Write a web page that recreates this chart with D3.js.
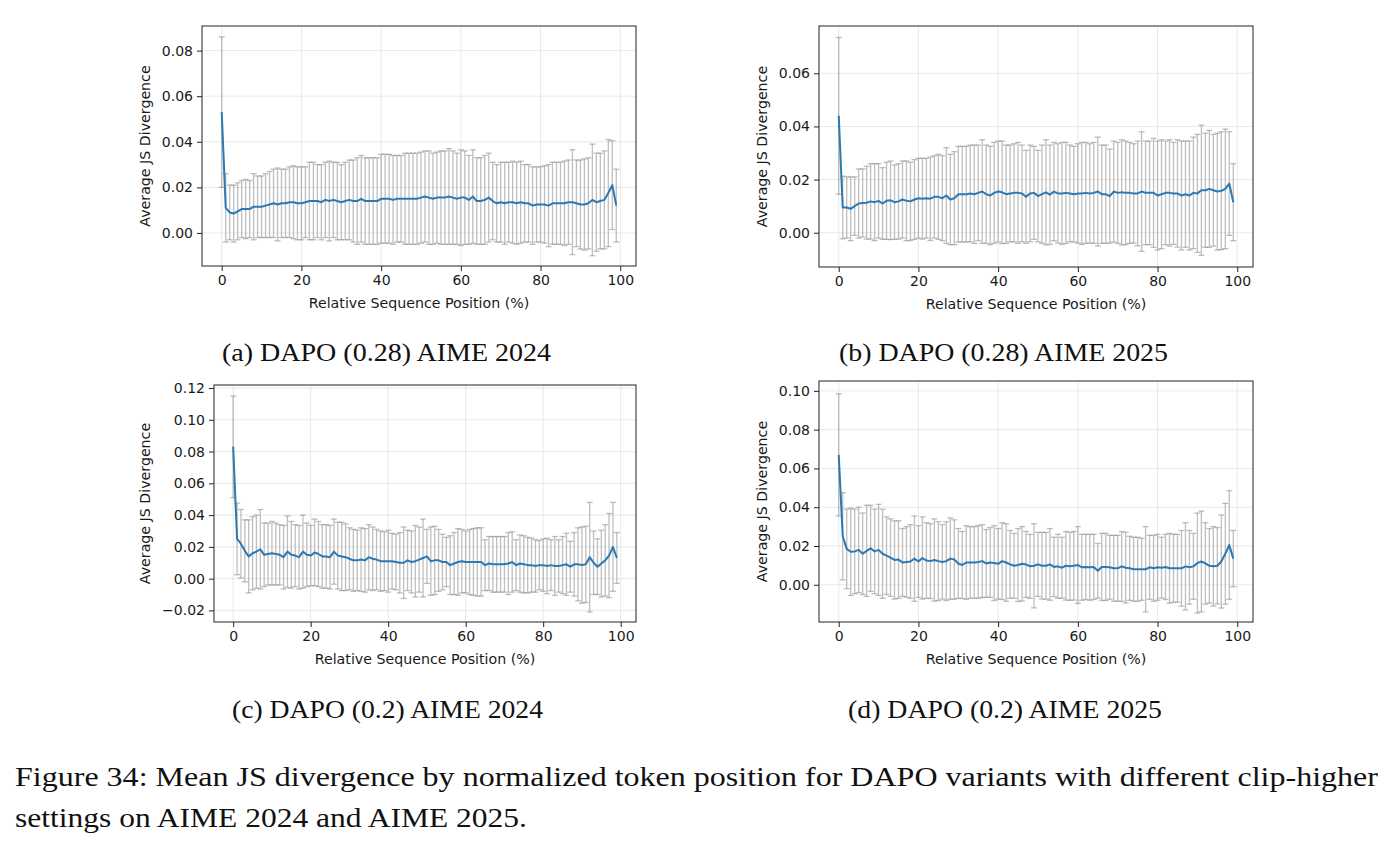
<!DOCTYPE html>
<html>
<head>
<meta charset="utf-8">
<script src="https://cdn.jsdelivr.net/npm/d3@7"></script>
<style>
  html, body { margin: 0; padding: 0; background: #fff; }
  svg { display: block; }
  .tick text { font-family: "DejaVu Sans", sans-serif; font-size: 14px; fill: #1a1a1a; }
  .axis-title { font-family: "DejaVu Sans", sans-serif; font-size: 14.2px; fill: #1a1a1a; }
  .caption { font-family: "Liberation Serif", "DejaVu Serif", serif; fill: #111; }
</style>
</head>
<body>
<div id="chart"></div>
<script>
// mean JS divergence per relative position bucket (0..99) and its std (error bar half-length)
const meanA = [0.053,0.011,0.009,0.0085,0.0095,0.0105,0.0105,0.0105,0.0115,0.0115,
  0.0115,0.012,0.0125,0.013,0.0125,0.013,0.013,0.0135,0.0135,0.013,
  0.013,0.0135,0.014,0.014,0.014,0.0135,0.0145,0.014,0.0145,0.014,
  0.0135,0.014,0.0145,0.014,0.014,0.015,0.014,0.014,0.014,0.014,
  0.015,0.015,0.015,0.0145,0.015,0.015,0.015,0.015,0.015,0.015,
  0.0155,0.016,0.0155,0.015,0.0155,0.0155,0.0155,0.016,0.0155,0.015,
  0.0155,0.0155,0.0145,0.016,0.014,0.014,0.0145,0.0155,0.014,0.013,
  0.0135,0.013,0.0135,0.0135,0.013,0.0135,0.013,0.013,0.012,0.0125,
  0.0125,0.0125,0.012,0.013,0.013,0.013,0.013,0.0135,0.0135,0.013,
  0.0125,0.0125,0.013,0.0145,0.0135,0.014,0.0145,0.0175,0.021,0.012];
const stdA = [0.033,0.015,0.012,0.0125,0.0125,0.0125,0.013,0.0125,0.0145,0.0135,
  0.0135,0.014,0.0145,0.015,0.016,0.015,0.015,0.0155,0.016,0.016,
  0.016,0.0155,0.017,0.017,0.016,0.0165,0.0165,0.0175,0.0165,0.017,
  0.0165,0.017,0.0175,0.018,0.019,0.019,0.019,0.019,0.019,0.019,
  0.0195,0.0195,0.0195,0.0195,0.019,0.019,0.02,0.02,0.02,0.02,
  0.02,0.02,0.0205,0.02,0.02,0.0205,0.0205,0.021,0.0205,0.02,
  0.021,0.0205,0.0195,0.0205,0.019,0.019,0.0195,0.0195,0.017,0.017,
  0.0175,0.018,0.0175,0.018,0.018,0.018,0.017,0.017,0.017,0.0165,
  0.0165,0.017,0.018,0.018,0.018,0.018,0.0185,0.0185,0.023,0.019,
  0.0195,0.02,0.02,0.0245,0.0215,0.021,0.0215,0.0235,0.0195,0.016];

const meanB = [0.044,0.0095,0.0095,0.009,0.010,0.011,0.0112,0.0113,0.0118,0.0115,
  0.012,0.011,0.012,0.0122,0.0115,0.0118,0.0125,0.012,0.0118,0.0125,
  0.013,0.0128,0.013,0.0128,0.0135,0.0135,0.013,0.014,0.0125,0.013,
  0.0145,0.0145,0.0145,0.0148,0.0145,0.015,0.0155,0.0145,0.014,0.015,
  0.0155,0.0152,0.0145,0.0148,0.015,0.015,0.0148,0.0135,0.0148,0.015,
  0.0138,0.0145,0.0152,0.0143,0.0155,0.0148,0.0148,0.015,0.0148,0.0145,
  0.0148,0.0148,0.015,0.0148,0.015,0.0155,0.0145,0.0145,0.0138,0.0155,
  0.015,0.0152,0.015,0.015,0.0148,0.0148,0.0155,0.015,0.015,0.015,
  0.014,0.0145,0.015,0.015,0.0148,0.0148,0.014,0.0145,0.014,0.015,
  0.0148,0.016,0.016,0.0165,0.016,0.0155,0.0158,0.0165,0.0185,0.0115];
const stdB = [0.0295,0.0118,0.0115,0.012,0.011,0.013,0.0128,0.0137,0.0142,0.0145,
  0.014,0.0135,0.0145,0.0148,0.014,0.0142,0.0145,0.015,0.0147,0.015,
  0.015,0.0152,0.015,0.0157,0.0155,0.016,0.016,0.018,0.017,0.0175,
  0.018,0.018,0.018,0.0182,0.0185,0.018,0.0195,0.0185,0.0185,0.019,
  0.019,0.0193,0.0185,0.0182,0.0185,0.019,0.0182,0.0175,0.0182,0.0175,
  0.0172,0.0185,0.0198,0.0187,0.0185,0.0187,0.0192,0.019,0.0182,0.018,
  0.0187,0.0192,0.019,0.0187,0.019,0.0205,0.0185,0.0185,0.0177,0.019,
  0.019,0.0198,0.0195,0.019,0.0187,0.0197,0.0225,0.0195,0.0195,0.0205,
  0.0205,0.0205,0.0195,0.02,0.0192,0.0202,0.0205,0.02,0.0205,0.021,
  0.0222,0.0245,0.0215,0.022,0.021,0.022,0.0222,0.0225,0.0195,0.0145];

const meanC = [0.083,0.025,0.022,0.0175,0.014,0.016,0.017,0.0185,0.015,0.0155,
  0.016,0.0155,0.015,0.0135,0.017,0.015,0.0145,0.0135,0.017,0.015,
  0.0145,0.0165,0.0155,0.014,0.014,0.0135,0.017,0.0145,0.014,0.0135,
  0.0125,0.0115,0.0115,0.012,0.0115,0.0135,0.0125,0.012,0.011,0.011,
  0.011,0.011,0.0105,0.010,0.010,0.0115,0.0105,0.011,0.012,0.013,
  0.014,0.011,0.0115,0.0115,0.0105,0.0105,0.0085,0.0095,0.0105,0.011,
  0.0105,0.0105,0.0105,0.0105,0.0105,0.0085,0.0095,0.009,0.009,0.009,
  0.009,0.0095,0.0105,0.0085,0.0095,0.009,0.0085,0.0085,0.008,0.0085,
  0.0085,0.008,0.0085,0.008,0.008,0.0085,0.009,0.0075,0.009,0.009,
  0.0085,0.009,0.0135,0.010,0.0075,0.0095,0.0115,0.0145,0.020,0.013];
const stdC = [0.032,0.0225,0.0215,0.0195,0.023,0.023,0.023,0.025,0.020,0.0195,
  0.020,0.0195,0.019,0.020,0.0225,0.021,0.0195,0.020,0.023,0.020,
  0.019,0.021,0.0205,0.020,0.020,0.020,0.0205,0.021,0.0215,0.021,
  0.0195,0.0195,0.019,0.020,0.020,0.0205,0.020,0.019,0.019,0.0185,
  0.0195,0.0175,0.0175,0.019,0.0225,0.019,0.0195,0.0225,0.0205,0.0245,
  0.017,0.0215,0.0215,0.0195,0.0175,0.0155,0.0185,0.0195,0.021,0.020,
  0.0195,0.0205,0.021,0.0215,0.0215,0.016,0.017,0.0175,0.0175,0.0175,
  0.0175,0.0195,0.019,0.016,0.018,0.018,0.0175,0.017,0.0165,0.0155,
  0.0165,0.0175,0.016,0.0185,0.0165,0.018,0.0195,0.016,0.020,0.023,
  0.024,0.024,0.0345,0.020,0.0175,0.021,0.0225,0.0265,0.028,0.016];

const meanD = [0.067,0.025,0.0185,0.017,0.0172,0.018,0.016,0.0175,0.0188,0.0172,
  0.018,0.016,0.015,0.014,0.0128,0.013,0.0115,0.0118,0.012,0.0135,
  0.012,0.0138,0.0125,0.0122,0.0128,0.0122,0.0118,0.0122,0.0135,0.013,
  0.011,0.0102,0.0115,0.0115,0.0115,0.0118,0.0122,0.011,0.0115,0.0112,
  0.0108,0.0122,0.0115,0.0105,0.0098,0.0102,0.0108,0.0105,0.0095,0.0098,
  0.0105,0.0098,0.0098,0.0105,0.0092,0.0095,0.0088,0.0098,0.0095,0.0098,
  0.0102,0.009,0.0092,0.009,0.0092,0.0072,0.0092,0.0092,0.009,0.0085,
  0.0085,0.0095,0.0088,0.0085,0.008,0.008,0.008,0.008,0.009,0.0085,
  0.009,0.0088,0.0092,0.0085,0.0085,0.0085,0.0085,0.0095,0.009,0.0095,
  0.0112,0.012,0.011,0.0098,0.0095,0.0098,0.012,0.016,0.0205,0.0135];
const stdD = [0.0315,0.0225,0.0205,0.0225,0.0218,0.022,0.021,0.0235,0.0222,0.0218,
  0.0235,0.023,0.020,0.020,0.0202,0.020,0.0175,0.0182,0.019,0.022,
  0.0185,0.0212,0.0195,0.0193,0.0212,0.0203,0.0192,0.0203,0.021,0.0205,
  0.018,0.0173,0.019,0.0185,0.0185,0.0187,0.0188,0.0175,0.018,0.0193,
  0.0182,0.0198,0.020,0.0175,0.0167,0.0188,0.0192,0.017,0.0165,0.0217,
  0.0165,0.0172,0.0172,0.0185,0.0153,0.0165,0.0157,0.0177,0.0175,0.0177,
  0.0198,0.017,0.0168,0.017,0.0168,0.0141,0.0173,0.0173,0.0165,0.017,
  0.017,0.018,0.0182,0.0165,0.0165,0.0165,0.016,0.022,0.0165,0.017,
  0.017,0.0157,0.0168,0.018,0.0175,0.0175,0.0195,0.0225,0.019,0.017,
  0.0258,0.026,0.021,0.0192,0.0205,0.0197,0.024,0.026,0.028,0.0145];

const xTicks  = [0, 20, 40, 60, 80, 100];
const yTicksA = [0.00, 0.02, 0.04, 0.06, 0.08];
const yTicksB = [0.00, 0.02, 0.04, 0.06];
const yTicksC = [-0.02, 0.00, 0.02, 0.04, 0.06, 0.08, 0.10, 0.12];
const yTicksD = [0.00, 0.02, 0.04, 0.06, 0.08, 0.10];

const subCaptions = [
  "(a) DAPO (0.28) AIME 2024",
  "(b) DAPO (0.28) AIME 2025",
  "(c) DAPO (0.2) AIME 2024",
  "(d) DAPO (0.2) AIME 2025",
];
const figCaption = [
  "Figure 34: Mean JS divergence by normalized token position for DAPO variants with different clip-higher",
  "settings on AIME 2024 and AIME 2025.",
];

const xLabel = "Relative Sequence Position (%)";
const yLabel = "Average JS Divergence";

const W = 1392, H = 852;

const svg = d3.select("#chart").append("svg")
  .attr("width", W)
  .attr("height", H);

// panel boxes in px: [left, right, top, bottom], y domain, y label centre x, caption
const panels = [
  {mean: meanA, std: stdA, ticks: yTicksA, box: [202, 636, 26, 266], ydom: [-0.0145, 0.0908], ylx: 145,
   cap: {x: 386.5, y: 361, w: 329}},
  {mean: meanB, std: stdB, ticks: yTicksB, box: [819, 1253, 26, 267], ydom: [-0.0129, 0.0778], ylx: 762,
   cap: {x: 1003.5, y: 361, w: 329}},
  {mean: meanC, std: stdC, ticks: yTicksC, box: [214, 636, 385, 622], ydom: [-0.0273, 0.1219], ylx: 145,
   cap: {x: 387.5, y: 718, w: 311}},
  {mean: meanD, std: stdD, ticks: yTicksD, box: [819, 1253, 381, 622], ydom: [-0.0192, 0.1051], ylx: 762,
   cap: {x: 1005, y: 718, w: 314}},
];

const fmt = (d) => d3.format(".2f")(d).replace("-", "\u2212");

const renderPanel = (p, k) => {
  const [l, r, t, b] = p.box;
  const x = d3.scaleLinear().domain([-4.95, 103.95]).range([l, r]);
  const y = d3.scaleLinear().domain(p.ydom).range([b, t]);

  const g = svg.append("g");

  // grid
  g.append("g")
    .selectAll("line")
    .data(xTicks)
    .enter().append("line")
      .attr("x1", d => x(d)).attr("x2", d => x(d))
      .attr("y1", t).attr("y2", b)
      .attr("stroke", "#b0b0b0").attr("stroke-opacity", 0.35).attr("stroke-width", 0.8);
  g.append("g")
    .selectAll("line")
    .data(p.ticks)
    .enter().append("line")
      .attr("x1", l).attr("x2", r)
      .attr("y1", d => y(d)).attr("y2", d => y(d))
      .attr("stroke", "#b0b0b0").attr("stroke-opacity", 0.35).attr("stroke-width", 0.8);

  // error bars
  const eb = g.append("g")
    .attr("stroke", "#808080")
    .attr("stroke-width", 1.3);
  const bars = eb.selectAll("g")
    .data(p.mean.map((m, i) => ({i, m, s: p.std[i]})))
    .enter().append("g")
      .attr("stroke-opacity", 0.5);
  bars.append("line")
    .attr("x1", d => x(d.i)).attr("x2", d => x(d.i))
    .attr("y1", d => y(d.m - d.s)).attr("y2", d => y(d.m + d.s));
  bars.append("line")
    .attr("x1", d => x(d.i) - 3).attr("x2", d => x(d.i) + 3)
    .attr("y1", d => y(d.m + d.s)).attr("y2", d => y(d.m + d.s));
  bars.append("line")
    .attr("x1", d => x(d.i) - 3).attr("x2", d => x(d.i) + 3)
    .attr("y1", d => y(d.m - d.s)).attr("y2", d => y(d.m - d.s));

  // mean line
  g.append("path")
    .datum(p.mean)
    .attr("fill", "none")
    .attr("stroke", "#2b78b3")
    .attr("stroke-width", 2)
    .attr("stroke-linejoin", "round")
    .attr("d", d3.line().x((d, i) => x(i)).y(d => y(d)));

  // axes
  const xAxis = d3.axisBottom(x).tickValues(xTicks).tickSize(5).tickPadding(4).tickFormat(d3.format("d"));
  const yAxis = d3.axisLeft(y).tickValues(p.ticks).tickSize(5).tickPadding(4).tickFormat(fmt);

  g.append("g")
    .attr("transform", `translate(0,${b})`)
    .call(xAxis)
    .call(s => s.select(".domain").remove())
    .call(s => s.selectAll(".tick line").attr("stroke", "#222"));
  g.append("g")
    .attr("transform", `translate(${l},0)`)
    .call(yAxis)
    .call(s => s.select(".domain").remove())
    .call(s => s.selectAll(".tick line").attr("stroke", "#222"));

  // frame
  g.append("rect")
    .attr("x", l).attr("y", t)
    .attr("width", r - l).attr("height", b - t)
    .attr("fill", "none").attr("stroke", "#222").attr("stroke-width", 1);

  g.append("text")
    .attr("class", "axis-title")
    .attr("x", (l + r) / 2)
    .attr("y", b + 42)
    .attr("text-anchor", "middle")
    .text(xLabel);

  g.append("text")
    .attr("class", "axis-title")
    .attr("transform", `translate(${p.ylx + 5},${(t + b) / 2}) rotate(-90)`)
    .attr("text-anchor", "middle")
    .text(yLabel);

  g.append("text")
    .attr("class", "caption")
    .attr("x", p.cap.x)
    .attr("y", p.cap.y)
    .attr("text-anchor", "middle")
    .attr("font-size", "25px")
    .attr("textLength", p.cap.w)
    .attr("lengthAdjust", "spacingAndGlyphs")
    .text(subCaptions[k]);
};

panels.forEach(renderPanel);

svg.append("text")
  .attr("class", "caption")
  .attr("x", 15).attr("y", 786)
  .attr("font-size", "27px")
  .attr("textLength", 1363)
  .attr("lengthAdjust", "spacingAndGlyphs")
  .text(figCaption[0]);
svg.append("text")
  .attr("class", "caption")
  .attr("x", 15).attr("y", 827)
  .attr("font-size", "27px")
  .attr("textLength", 512)
  .attr("lengthAdjust", "spacingAndGlyphs")
  .text(figCaption[1]);
</script>
</body>
</html>
